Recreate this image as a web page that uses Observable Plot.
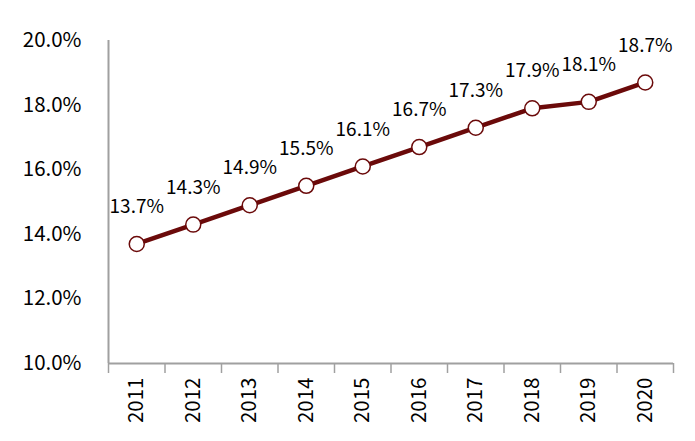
<!DOCTYPE html>
<html>
<head>
<meta charset="utf-8">
<script src="https://cdn.jsdelivr.net/npm/d3@7"></script>
<script src="https://cdn.jsdelivr.net/npm/@observablehq/plot@0.6"></script>
<style>
  body { margin: 0; background: #fff; }
  #chart svg { display: block; }
</style>
</head>
<body>
<div id="chart"></div>
<script>
const years = [2011, 2012, 2013, 2014, 2015, 2016, 2017, 2018, 2019, 2020];
const values = [13.7, 14.3, 14.9, 15.5, 16.1, 16.7, 17.3, 17.9, 18.1, 18.7];
const yTicks = [10, 12, 14, 16, 18, 20];

const data = years.map((year, i) => ({year, value: values[i]}));
const boundaries = years.map(y => y - 0.5).concat([years[years.length - 1] + 0.5]);
const xDomain = [boundaries[0], boundaries[boundaries.length - 1]];

const maroon = "#6b0a0a";
const axisGray = "#a0a0a0";
const font = "'Noto Sans CJK SC', 'Noto Sans', sans-serif";

const chart = Plot.plot({
  width: 695,
  height: 441,
  marginLeft: 108,
  marginRight: 22,
  marginTop: 40,
  marginBottom: 78,
  style: {fontFamily: font, background: "#fff", color: "#000"},
  x: {domain: xDomain},
  y: {domain: [10, 20]},
  marks: [
    Plot.axisY({ticks: yTicks, tickSize: 0, tickPadding: 27, fontSize: 20.5,
      tickFormat: d => d.toFixed(1) + "%", label: null, fill: "#000"}),
    Plot.axisX({ticks: years, tickSize: 0, tickPadding: 14, tickRotate: -90,
      fontSize: 20.5, tickFormat: d => String(d), label: null, fill: "#000"}),
    Plot.axisX({ticks: boundaries, tickSize: 10, tickFormat: () => "", label: null,
      stroke: axisGray, strokeWidth: 1.5}),
    Plot.ruleY([10], {stroke: axisGray, strokeWidth: 2}),
    Plot.ruleX([xDomain[0]], {stroke: axisGray, strokeWidth: 2}),
    Plot.line(data, {x: "year", y: "value", stroke: maroon, strokeWidth: 4.5}),
    Plot.dot(data, {x: "year", y: "value", r: 7.5, fill: "#fff", stroke: maroon, strokeWidth: 1.5}),
    Plot.text(data, {x: "year", y: "value", text: d => d.value.toFixed(1) + "%",
      dy: -37, fontSize: 19, fill: "#000"})
  ]
});
document.getElementById("chart").appendChild(chart);
</script>
</body>
</html>
